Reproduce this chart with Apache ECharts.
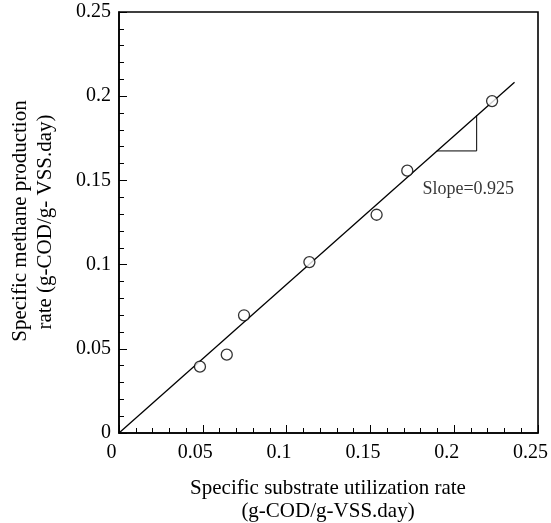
<!DOCTYPE html>
<html><head><meta charset="utf-8">
<script src="https://cdn.jsdelivr.net/npm/echarts@6/dist/echarts.min.js"></script>
<style>html,body{margin:0;padding:0;background:#fff}#c{width:551px;height:523px}</style>
</head><body><div id="c"></div>
<script>
const xTicks = [0, 0.05, 0.1, 0.15, 0.2, 0.25];
const yTicks = [0, 0.05, 0.1, 0.15, 0.2, 0.25];
const obsX = [0.0483, 0.0643, 0.0746, 0.1136, 0.1537, 0.1720, 0.2226];
const obsY = [0.0394, 0.0465, 0.0699, 0.1015, 0.1296, 0.1558, 0.1971];
const fitX = [0, 0.236];
const fitY = [0, 0.2083];
const triX = [0.1896, 0.2134, 0.2134];
const triY = [0.1675, 0.1675, 0.1886];
const slopeLabel = 'Slope=0.925';
const slopeAt = [0.2084, 0.1447];
const xTitle = ['Specific substrate utilization rate', '(g-COD/g-VSS.day)'];
const yTitle = ['Specific methane production', 'rate (g-COD/g- VSS.day)'];

const FONT = "'Liberation Serif','Times New Roman',serif";
const zip = (a, b) => a.map((v, i) => [v, b[i]]);
const chart = echarts.init(document.getElementById('c'));
const fmt = v => String(+v.toFixed(2));
chart.setOption({
  animation: false,
  backgroundColor: '#fff',
  grid: { left: 119, right: 13, top: 12, bottom: 90, show: true, borderColor: '#000', borderWidth: 1.6,
          containLabel: false, outerBoundsMode: 'none' },
  xAxis: {
    type: 'value', min: xTicks[0], max: xTicks[xTicks.length - 1], interval: 0.05,
    axisLine: { onZero: false, lineStyle: { color: '#000', width: 1.5 } },
    axisTick: { inside: true, length: 8, lineStyle: { color: '#000' } },
    minorTick: { show: true, splitNumber: 5, length: 5, lineStyle: { color: '#000' } },
    splitLine: { show: false },
    axisLabel: { color: '#000', fontFamily: FONT, fontSize: 20, margin: 10, padding: [0, 15, 0, 0], formatter: fmt }
  },
  yAxis: {
    type: 'value', min: yTicks[0], max: yTicks[yTicks.length - 1], interval: 0.05,
    axisLine: { onZero: false, lineStyle: { color: '#000', width: 1.5 } },
    axisTick: { inside: true, length: 8, lineStyle: { color: '#000' } },
    minorTick: { show: true, splitNumber: 5, length: 5, lineStyle: { color: '#000' } },
    splitLine: { show: false },
    axisLabel: { color: '#000', fontFamily: FONT, fontSize: 20, margin: 8, padding: [6, 0, 0, 0], formatter: fmt }
  },
  series: [
    { type: 'line', data: zip(fitX, fitY), symbol: 'none', lineStyle: { color: '#000', width: 1.3 }, z: 2 },
    { type: 'line', data: zip(triX, triY), symbol: 'none', lineStyle: { color: '#000', width: 1 }, z: 2 },
    { type: 'scatter', data: zip(obsX, obsY), symbol: 'circle', symbolSize: 11,
      itemStyle: { color: '#fff', borderColor: '#000', borderWidth: 1.3 }, z: 3 },
    { type: 'scatter', data: [slopeAt], symbolSize: 0, silent: true,
      label: { show: true, position: 'inside', formatter: slopeLabel, color: '#000', fontFamily: FONT, fontSize: 18 } }
  ],
  graphic: [
    { type: 'text', x: 328, y: 488.5, style: { text: xTitle[0], font: "21px " + FONT, fill: '#000', textAlign: 'center', textVerticalAlign: 'middle' } },
    { type: 'text', x: 328, y: 511, style: { text: xTitle[1], font: "21px " + FONT, fill: '#000', textAlign: 'center', textVerticalAlign: 'middle' } },
    { type: 'text', x: 20.5, y: 221, rotation: Math.PI / 2, style: { text: yTitle[0], font: "21px " + FONT, fill: '#000', textAlign: 'center', textVerticalAlign: 'middle' } },
    { type: 'text', x: 45.5, y: 222, rotation: Math.PI / 2, style: { text: yTitle[1], font: "21px " + FONT, fill: '#000', textAlign: 'center', textVerticalAlign: 'middle' } }
  ]
});
</script></body></html>
